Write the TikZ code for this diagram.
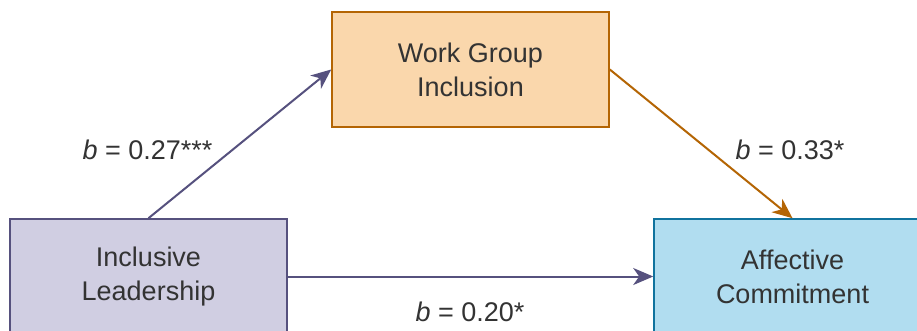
\documentclass[tikz,border=0pt]{standalone}
\usepackage{fontspec}
\setmainfont{Liberation Sans}
\usetikzlibrary{arrows.meta}
\definecolor{pfill}{HTML}{D0CEE2}
\definecolor{pdraw}{HTML}{56517E}
\definecolor{ofill}{HTML}{FAD7AC}
\definecolor{odraw}{HTML}{B46504}
\definecolor{bfill}{HTML}{B1DDF0}
\definecolor{bdraw}{HTML}{10739E}
\definecolor{txt}{HTML}{333333}
\tikzset{
  box/.style={draw, line width=1.6pt, minimum width=277pt, minimum height=115pt,
    inner sep=0pt, align=center, text=txt, font=\fontsize{27}{34}\selectfont},
  conn/.style={line width=2pt, -{Stealth[length=20pt,width=17pt,inset=6pt]}},
  lbl/.style={text=txt, font=\fontsize{27}{34}\selectfont, inner sep=0pt}
}
\begin{document}
\begin{tikzpicture}[x=1pt,y=-1pt]
\useasboundingbox (0,0) rectangle (917,331);
\clip (0,0) rectangle (917,331);
\fill[white] (0,0) rectangle (917,331);
\node[box, fill=ofill, draw=odraw] (wgi) at (470.5,69.5) {Work Group\\Inclusion};
\node[box, fill=pfill, draw=pdraw] (il) at (148.5,276.5) {Inclusive\\Leadership};
\node[box, fill=bfill, draw=bdraw] (ac) at (792.5,276.5) {Affective\\Commitment};
\draw[conn, pdraw] (il.north) -- (wgi.west);
\draw[conn, odraw] (wgi.east) -- (ac.north);
\draw[conn, pdraw] (il.east) -- (ac.west);
\node[lbl] (l1) at (147.5,150) {\textit{b} = 0.27***};
\node[lbl] (l2) at (790,150) {\textit{b} = 0.33*};
\node[lbl] (l3) at (470,312) {\textit{b} = 0.20*};
\end{tikzpicture}
\end{document}
